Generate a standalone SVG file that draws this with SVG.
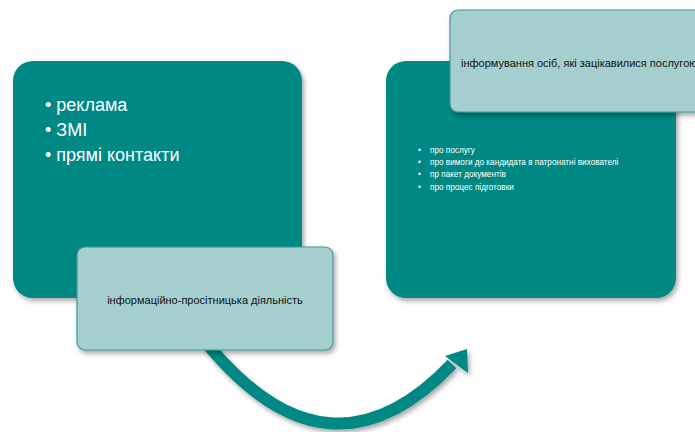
<svg xmlns="http://www.w3.org/2000/svg" width="695" height="432" viewBox="0 0 695 432">
<defs>
<filter id="sh" x="-10%" y="-10%" width="130%" height="130%">
<feDropShadow dx="2" dy="3" stdDeviation="2.5" flood-color="#000" flood-opacity="0.35"/>
</filter>
<style>
.big{fill:#058984;}
.light{fill:#a5cfcf;stroke:#3c9894;stroke-width:1.2;}
.t{font-family:"Liberation Sans",Arial,sans-serif;}
.w{fill:#ffffff;}
.k{fill:#111111;}
</style>
</defs>
<rect width="695" height="432" fill="#ffffff"/>
<g id="connectors">
<g filter="url(#sh)">
<path d="M 208 345 Q 330 492 452 364" fill="none" stroke="#058984" stroke-width="12"/>
<polygon points="445,356 467,349 468,373" fill="#058984"/>
</g>
</g>
<g id="box-left">
<rect class="big" x="13" y="61" width="289" height="237" rx="20" filter="url(#sh)"/>
<text class="t w" font-size="18"><tspan x="45" y="111">• реклама</tspan><tspan x="45" y="136">• ЗМІ</tspan><tspan x="45" y="161">• прямі контакти</tspan></text>
</g>
<g id="label-left">
<rect class="light" x="77" y="247" width="256" height="103" rx="8" filter="url(#sh)"/>
<text class="t k" x="205" y="304" font-size="11" text-anchor="middle">інформаційно-просітницька діяльність</text>
</g>
<g id="box-right">
<rect class="big" x="386" y="61" width="290" height="237" rx="20" filter="url(#sh)"/>
<text class="t w" font-size="8.2"><tspan x="418" y="153">•</tspan><tspan x="430" y="153">про послугу</tspan><tspan x="418" y="165">•</tspan><tspan x="430" y="165">про вимоги до кандидата в патронатні вихователі</tspan><tspan x="418" y="177">•</tspan><tspan x="430" y="177">пр пакет документів</tspan><tspan x="418" y="190">•</tspan><tspan x="430" y="190">про процес підготовки</tspan></text>
</g>
<g id="label-right">
<rect class="light" x="450" y="10" width="280" height="102" rx="8" filter="url(#sh)"/>
<text class="t k" x="461" y="67" font-size="11">інформування осіб, які зацікавилися послугою</text>
</g>
</svg>
